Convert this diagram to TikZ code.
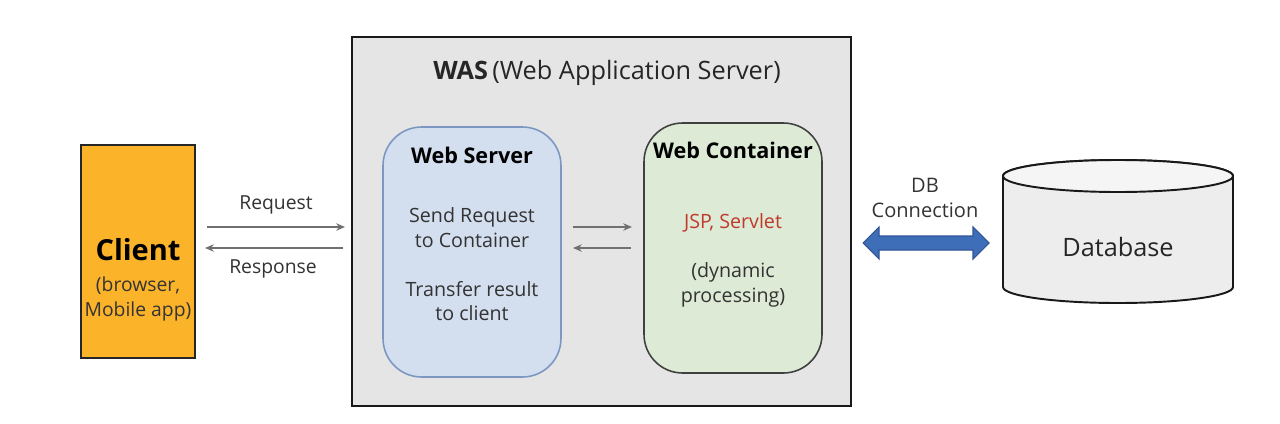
\documentclass[tikz,border=0pt]{standalone}
\usepackage{fontspec}
\setmainfont{Open Sans}
\usetikzlibrary{arrows.meta,calc}
\definecolor{clientfill}{HTML}{FBB32A}
\definecolor{wasfill}{HTML}{E6E5E5}
\definecolor{wsfill}{HTML}{D3DEEF}
\definecolor{wsline}{HTML}{7E97C2}
\definecolor{wcfill}{HTML}{DCEAD6}
\definecolor{arrgray}{HTML}{707070}
\definecolor{dbblue}{HTML}{3F6EB8}
\definecolor{dbblueline}{HTML}{2F5597}
\definecolor{jspred}{HTML}{C0392B}
\definecolor{txt}{HTML}{222222}
\begin{document}
\begin{tikzpicture}[x=0.02cm,y=-0.02cm,
  every node/.style={inner sep=0pt,outer sep=0pt,text=txt},
  box/.style={draw=black!85,line width=1.1pt},
  rbox/.style={line width=0.9pt,rounded corners=22pt},
  small/.style={font=\fontsize{11}{13.6}\selectfont,align=center,text=black!80},
  inner/.style={font=\fontsize{11.2}{14.1}\selectfont,align=center,text=black!80},
  garr/.style={draw=arrgray,line width=1pt,-{Stealth[length=5pt,width=4.2pt]}}
]
\useasboundingbox (0,0) rectangle (1280,423);
\fill[white] (0,0) rectangle (1280,423);

% Client
\node[box,fill=clientfill,minimum width=114*0.02cm,minimum height=213*0.02cm,anchor=north west] (client) at (81,145) {};
\node[font=\bfseries\fontsize{16.5}{20}\selectfont,text=black] (clientt) at (138,250) {Client};
\node[font=\fontsize{11}{13.8}\selectfont,align=center,text=black!80] (clients) at (138,299) {(browser,\\Mobile app)};

% WAS
\node[draw=black!90,line width=1.6pt,fill=wasfill,minimum width=499*0.02cm,minimum height=369*0.02cm,anchor=north west] (was) at (352,37) {};
\node[font=\fontsize{14.4}{16}\selectfont,text=black!85] (wast) at (607,73) {\textbf{WAS}\,(Web Application Server)};

% Web Server
\node[rbox,draw=wsline,fill=wsfill,minimum width=178*0.02cm,minimum height=250*0.02cm,anchor=north west] (ws) at (383,127) {};
\node[font=\bfseries\fontsize{12.3}{15}\selectfont,text=black] (wst) at (472,155) {Web Server};
\node[inner] (ws1) at (472,228) {Send Request\\to Container};
\node[inner] (ws2) at (472,301) {Transfer result\\to client};

% Web Container
\node[rbox,draw=black!75,fill=wcfill,minimum width=178*0.02cm,minimum height=250*0.02cm,anchor=north west] (wc) at (644,123) {};
\node[font=\bfseries\fontsize{12.3}{15}\selectfont,text=black] (wct) at (733,150) {Web Container};
\node[inner,text=jspred] (wc1) at (733,223) {JSP, Servlet};
\node[inner] (wc2) at (733,285) {(dynamic\\processing)};

% Request / Response
\coordinate (rq1) at (207,227); \coordinate (rq2) at (345,227);
\coordinate (rs1) at (343,248); \coordinate (rs2) at (205,248);
\draw[garr] (rq1) -- (rq2);
\draw[garr] (rs1) -- (rs2);
\node[small] (req) at (276,205) {Request};
\node[small] (resp) at (273,269) {Response};

% inner arrows
\coordinate (i1) at (573,227); \coordinate (i2) at (632,227);
\coordinate (i3) at (631,248); \coordinate (i4) at (573,248);
\draw[garr] (i1) -- (i2);
\draw[garr] (i3) -- (i4);

% DB connection
\node[font=\fontsize{11.4}{13.8}\selectfont,align=center,text=black!80] (dbc) at (925,198) {DB\\Connection};
\fill[dbblue,draw=dbblueline,line width=0.6pt]
  (863,243) -- (879,227) -- (879,236) -- (973,236) -- (973,227) -- (989,243)
  -- (973,259) -- (973,250) -- (879,250) -- (879,259) -- cycle;

% Database cylinder
\filldraw[fill=black!7,draw=black!90,line width=1.1pt]
  (1003,176) -- (1003,287) arc[start angle=180,end angle=0,x radius=115,y radius=16]
  -- (1233,176) arc[start angle=0,end angle=-180,x radius=115,y radius=16] -- cycle;
\filldraw[fill=black!4,draw=black!90,line width=1.1pt] (1118,176) ellipse[x radius=115,y radius=16];
\node[font=\fontsize{14.4}{16}\selectfont,text=black!85] (db) at (1118,247) {Database};
\end{tikzpicture}
\end{document}
